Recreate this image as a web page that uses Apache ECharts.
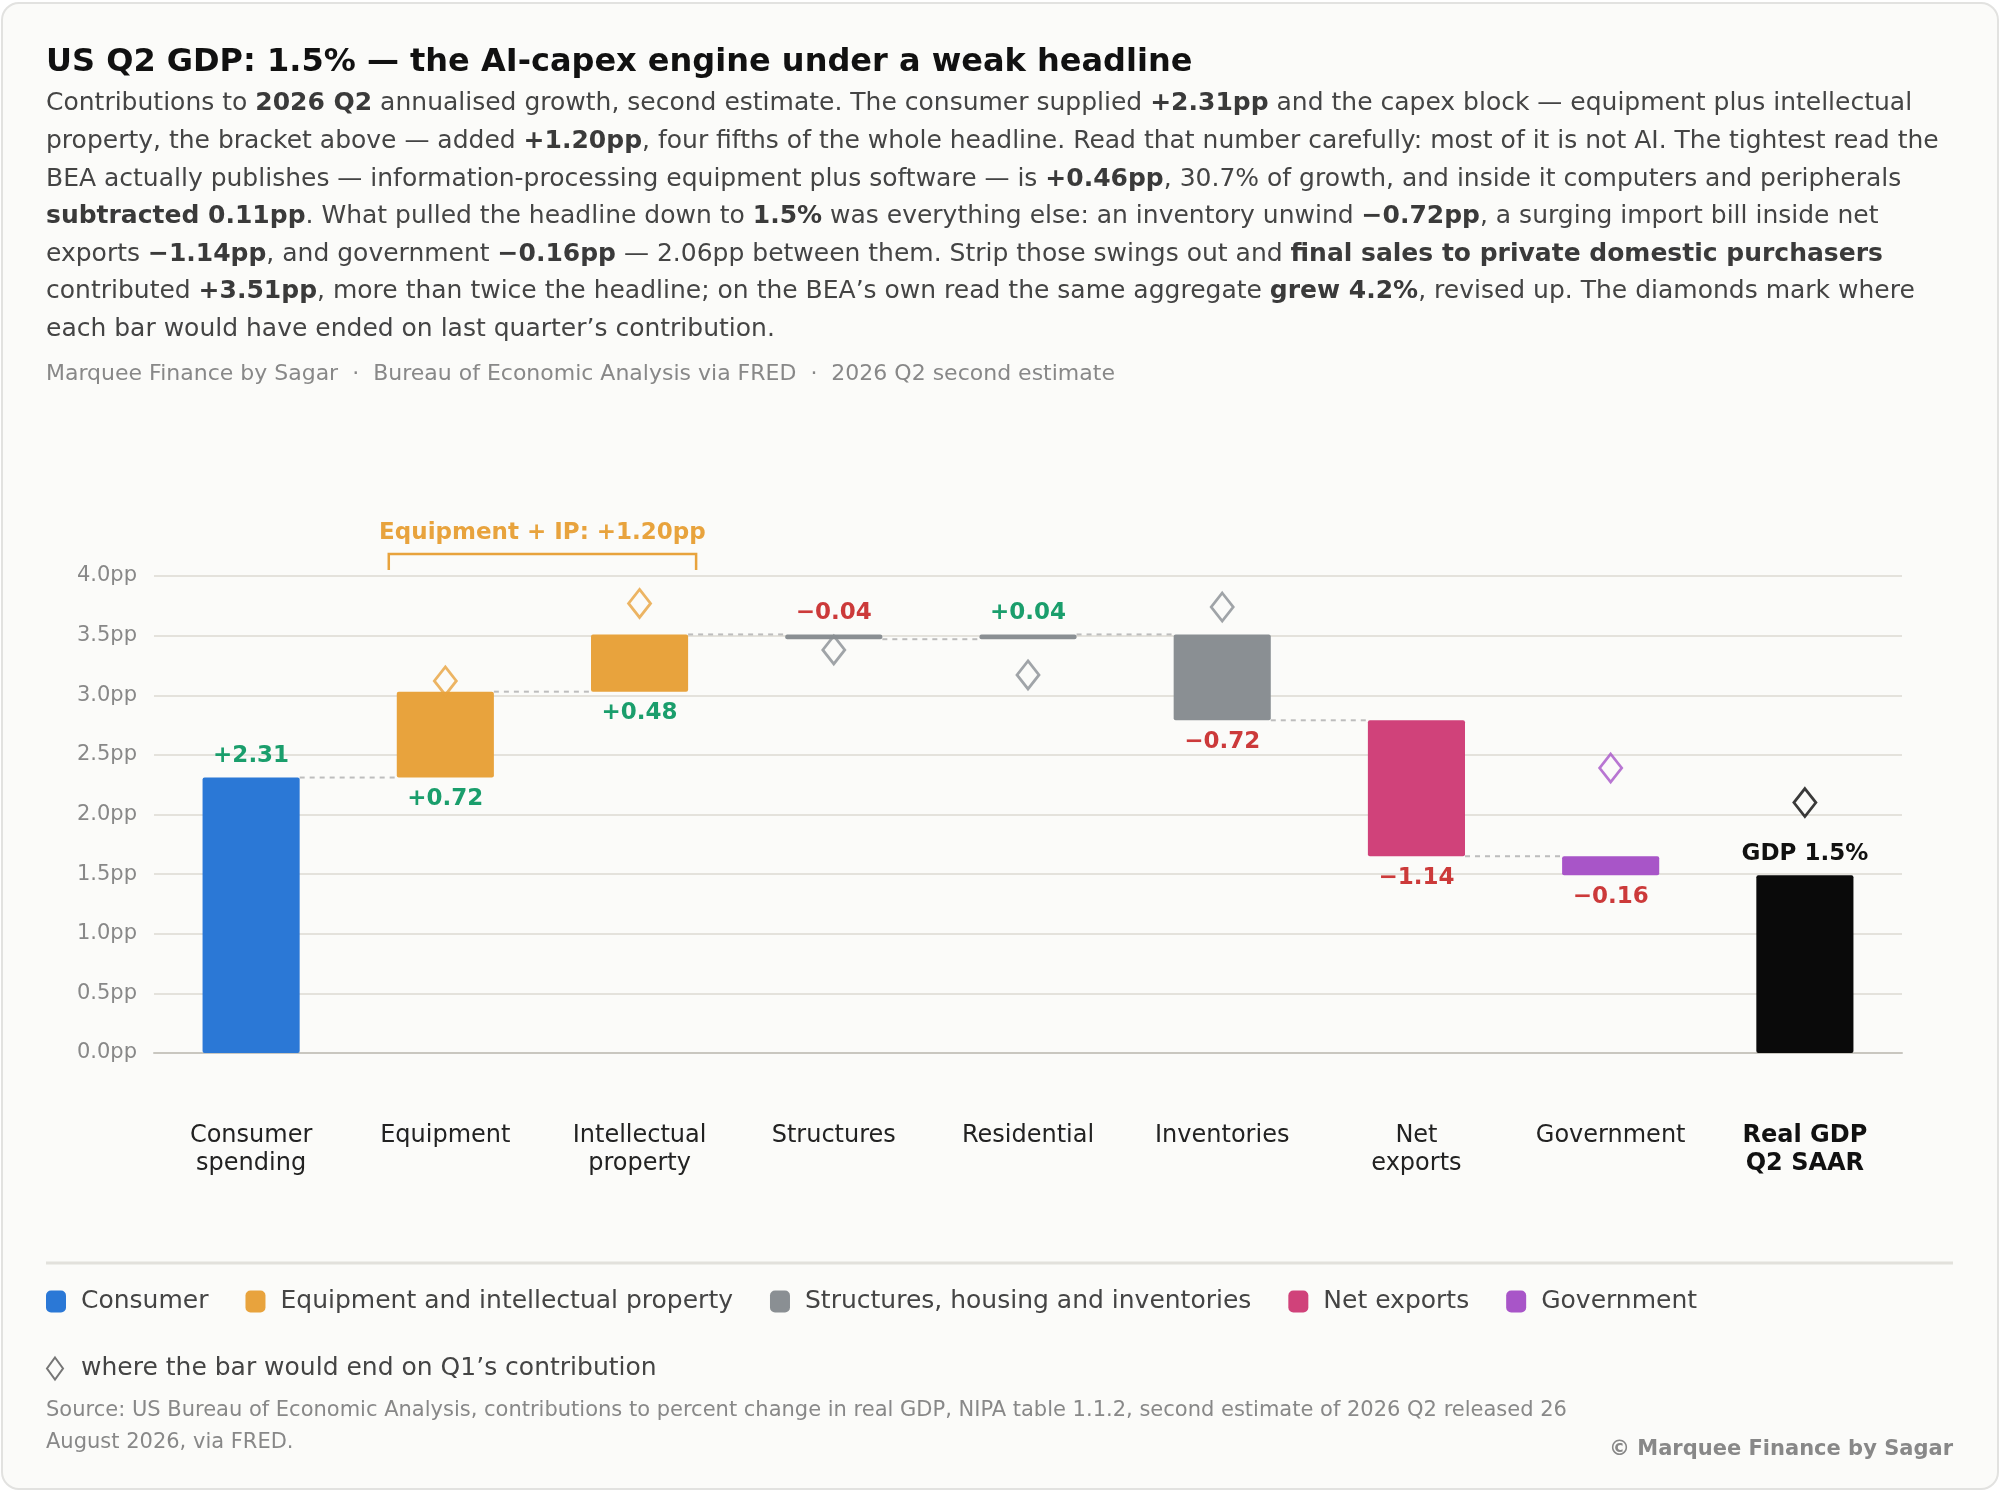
<html>
<head>
    <meta charset="utf-8">
    <script src="https://cdn.jsdelivr.net/npm/echarts@6.0.0/dist/echarts.min.js"></script>
</head>
<style>
    body {
        margin: 0;
        background: #ffffff;
    }

    #card {
        position: absolute;
        left: 1px;
        top: 2px;
        width: 1994px;
        height: 1484px;
        border: 2px solid #e2e2e0;
        border-radius: 18px;
        background: #fbfbf9;
    }

    #gdp {
        position: absolute;
        left: 0;
        top: 3px;
        width: 2000px;
        height: 1487px;
    }
</style>

<body>
    <div id="card"></div>
    <div id="gdp"></div>
    <script>
        // categories along the x axis
        const categories = ['Consumer\nspending', 'Equipment', 'Intellectual\nproperty', 'Structures',
            'Residential', 'Inventories', 'Net\nexports', 'Government', 'Real GDP\nQ2 SAAR']
        // Q2 contributions, pp (the last bar is the total)
        const contrib = [2.31, 0.72, 0.48, -0.04, 0.04, -0.72, -1.14, -0.16]
        const gdpTotal = 1.49
        // where each bar would have ended on Q1's contribution (null = not shown)
        const q1Ends = [null, 3.12, 3.77, 3.38, 3.17, 3.74, null, 2.39, 2.10]
        // legend group of each component bar
        const groupNames = ['Consumer', 'Equipment and intellectual property',
            'Structures, housing and inventories', 'Net exports', 'Government']
        const barGroup = [0, 1, 1, 2, 2, 2, 3, 4]
        // y axis ticks
        const yTicks = [0, 0.5, 1, 1.5, 2, 2.5, 3, 3.5, 4]

        const groupColors = ['#2b78d6', '#e8a33d', '#8a8f93', '#d0427a', '#a855c8']
        const gdpColor = '#0a0a0a'
        const green = '#1a9e6c'
        const red = '#cc3a3a'
        const font = 'DejaVu Sans'
        const diamondName = 'where the bar would end on Q1\u2019s contribution'

        // running totals
        let run = 0
        const starts = [], ends = []
        contrib.forEach(function (c) {
            starts.push(run)
            run = Math.round((run + c) * 100) / 100
            ends.push(run)
        })

        const base = contrib.map((c, i) => Math.min(starts[i], ends[i]))
        base.push(0)
        const height = contrib.map(c => Math.abs(c))

        function fmt(v) {
            return (v >= 0 ? '+' : '\u2212') + Math.abs(v).toFixed(2)
        }

        // label sits on the side away from the diamond
        function labelPos(i) {
            const q = q1Ends[i]
            if (q == null) return contrib[i] >= 0 ? 'top' : 'bottom'
            return q > Math.max(starts[i], ends[i]) ? 'bottom' : 'top'
        }

        const barSeries = groupNames.map(function (name, g) {
            return {
                name: name,
                type: 'bar',
                stack: 'w',
                barWidth: '50%',
                itemStyle: { color: groupColors[g], borderRadius: 2 },
                label: {
                    show: true,
                    distance: 10,
                    fontFamily: font,
                    fontSize: 23,
                    fontWeight: 'bold',
                    formatter: p => fmt(contrib[p.dataIndex])
                },
                data: categories.map(function (c, i) {
                    if (barGroup[i] !== g) return '-'
                    return {
                        value: height[i],
                        label: { position: labelPos(i), color: contrib[i] >= 0 ? green : red }
                    }
                })
            }
        })

        const connectors = contrib.slice(0, contrib.length - 1).map((c, i) => [i, ends[i]])

        const option = {
            backgroundColor: 'transparent',
            animation: false,
            title: [{
                text: 'US Q2 GDP: 1.5% \u2014 the AI-capex engine under a weak headline',
                left: 46, top: 41, padding: 0,
                textStyle: { fontFamily: font, fontSize: 32, fontWeight: 'bold', color: '#111', lineHeight: 38 }
            }, {
                text: [
                    'Contributions to {b|2026 Q2} annualised growth, second estimate. The consumer supplied {b|+2.31pp} and the capex block \u2014 equipment plus intellectual',
                    'property, the bracket above \u2014 added {b|+1.20pp}, four fifths of the whole headline. Read that number carefully: most of it is not AI. The tightest read the',
                    'BEA actually publishes \u2014 information-processing equipment plus software \u2014 is {b|+0.46pp}, 30.7% of growth, and inside it computers and peripherals',
                    '{b|subtracted 0.11pp}. What pulled the headline down to {b|1.5%} was everything else: an inventory unwind {b|\u22120.72pp}, a surging import bill inside net',
                    'exports {b|\u22121.14pp}, and government {b|\u22120.16pp} \u2014 2.06pp between them. Strip those swings out and {b|final sales to private domestic purchasers}',
                    'contributed {b|+3.51pp}, more than twice the headline; on the BEA\u2019s own read the same aggregate {b|grew 4.2%}, revised up. The diamonds mark where',
                    'each bar would have ended on last quarter\u2019s contribution.'
                ].join('\n'),
                left: 46, top: 82, padding: 0,
                textStyle: {
                    fontFamily: font, fontSize: 25, fontWeight: 'normal', color: '#444', lineHeight: 37.6,
                    rich: { b: { fontFamily: font, fontSize: 25, fontWeight: 'bold', color: '#3a3a3a', lineHeight: 37.6 } }
                }
            }, {
                text: 'Marquee Finance by Sagar  \u00b7  Bureau of Economic Analysis via FRED  \u00b7  2026 Q2 second estimate',
                left: 46, top: 358, padding: 0,
                textStyle: { fontFamily: font, fontSize: 22, fontWeight: 'normal', color: '#888', lineHeight: 26 }
            }, {
                text: 'Source: US Bureau of Economic Analysis, contributions to percent change in real GDP, NIPA table 1.1.2, second estimate of 2026 Q2 released 26\nAugust 2026, via FRED.',
                left: 46, top: 1392, padding: 0,
                textStyle: { fontFamily: font, fontSize: 21, fontWeight: 'normal', color: '#888', lineHeight: 32 }
            }, {
                text: '\u00a9 Marquee Finance by Sagar',
                right: 47, top: 1434, padding: 0,
                textStyle: { fontFamily: font, fontSize: 21, fontWeight: 'bold', color: '#888', lineHeight: 26 }
            }],
            legend: [{
                data: groupNames,
                selectedMode: false,
                left: 46, top: 1286, padding: 0,
                icon: 'roundRect',
                itemWidth: 20, itemHeight: 22, itemGap: 37,
                textStyle: { fontFamily: font, fontSize: 25, color: '#444', padding: [0, 0, 0, 10] }
            }, {
                data: [diamondName],
                selectedMode: false,
                left: 46, top: 1353, padding: 0,
                icon: 'diamond',
                itemWidth: 16, itemHeight: 22,
                textStyle: { fontFamily: font, fontSize: 25, color: '#444', padding: [0, 0, 0, 13] }
            }],
            grid: { left: 154, right: 98, top: 573, bottom: 437 },
            xAxis: {
                type: 'category',
                data: categories,
                axisTick: { show: false },
                axisLine: { lineStyle: { color: '#c9c7c0', width: 2 } },
                axisLabel: {
                    margin: 69,
                    interval: 0,
                    fontFamily: font,
                    fontSize: 24,
                    color: '#222',
                    lineHeight: 28,
                    formatter: function (v, i) {
                        return i === categories.length - 1 ? '{t|' + v.replace('\n', '}\n{t|') + '}' : v
                    },
                    rich: { t: { fontFamily: font, fontSize: 24, fontWeight: 'bold', color: '#111', lineHeight: 28 } }
                }
            },
            yAxis: {
                type: 'value',
                min: yTicks[0],
                max: yTicks[yTicks.length - 1],
                interval: 0.5,
                axisLine: { show: false },
                axisTick: { show: false },
                splitLine: { lineStyle: { color: '#e4e2dc', width: 2 } },
                axisLabel: {
                    margin: 17,
                    fontFamily: font,
                    fontSize: 21,
                    color: '#888',
                    formatter: v => v.toFixed(1) + 'pp'
                }
            },
            graphic: [{
                type: 'line',
                shape: { x1: 46, y1: 1260, x2: 1953, y2: 1260 },
                style: { stroke: '#e2e1dc', lineWidth: 3 }
            }],
            series: [{
                name: 'base',
                type: 'bar',
                stack: 'w',
                barWidth: '50%',
                silent: true,
                itemStyle: { color: 'transparent' },
                data: base
            }].concat(barSeries).concat([{
                name: 'Real GDP',
                type: 'bar',
                stack: 'w',
                barWidth: '50%',
                itemStyle: { color: gdpColor, borderRadius: 2 },
                label: {
                    show: true,
                    position: 'top',
                    distance: 10,
                    fontFamily: font,
                    fontSize: 23,
                    fontWeight: 'bold',
                    color: '#111',
                    formatter: 'GDP ' + gdpTotal.toFixed(1) + '%'
                },
                data: categories.map((c, i) => i === categories.length - 1 ? gdpTotal : '-')
            }, {
                name: 'connectors',
                type: 'custom',
                silent: true,
                z: 1,
                renderItem: function (params, api) {
                    const i = api.value(0)
                    const v = api.value(1)
                    const p0 = api.coord([i, v])
                    const p1 = api.coord([i + 1, v])
                    const half = api.size([1, 0])[0] * 0.25
                    return {
                        type: 'line',
                        shape: { x1: p0[0] + half, y1: p0[1], x2: p1[0] - half, y2: p1[1] },
                        style: { stroke: '#bdbdbd', lineWidth: 2, lineDash: [5, 5] }
                    }
                },
                data: connectors
            }, {
                name: diamondName,
                type: 'scatter',
                symbol: 'diamond',
                symbolSize: [22, 28],
                z: 5,
                itemStyle: { color: 'rgba(0,0,0,0)', borderColor: '#555', borderWidth: 2.8 },
                data: q1Ends.map(function (q, i) {
                    if (q == null) return null
                    const col = i < barGroup.length ? groupColors[barGroup[i]] : gdpColor
                    return { value: [i, q], itemStyle: { borderColor: col } }
                }).filter(d => d)
            }])
        }

        const myChart = echarts.init(document.getElementById('gdp'))
        myChart.setOption(option)

        // bracket over the equipment + IP bars
        const pEq = myChart.convertToPixel({ gridIndex: 0 }, [1, 4])
        const pIp = myChart.convertToPixel({ gridIndex: 0 }, [2, 4])
        const band = pIp[0] - pEq[0]
        const x0 = pEq[0] - band * 0.25 - 8
        const x1 = pIp[0] + band * 0.25 + 8
        const capex = contrib[1] + contrib[2]
        myChart.setOption({
            graphic: [option.graphic[0], {
                type: 'polyline',
                shape: { points: [[x0, pEq[1] - 6], [x0, pEq[1] - 22], [x1, pEq[1] - 22], [x1, pEq[1] - 6]] },
                style: { stroke: '#e8a33d', lineWidth: 2.5, fill: null }
            }, {
                type: 'text',
                x: (x0 + x1) / 2,
                y: pEq[1] - 43,
                style: {
                    text: 'Equipment + IP: +' + capex.toFixed(2) + 'pp',
                    fontFamily: font,
                    fontSize: 23,
                    fontWeight: 'bold',
                    fill: '#e8a33d',
                    align: 'center',
                    verticalAlign: 'middle'
                }
            }]
        })
    </script>
</body>

</html>
